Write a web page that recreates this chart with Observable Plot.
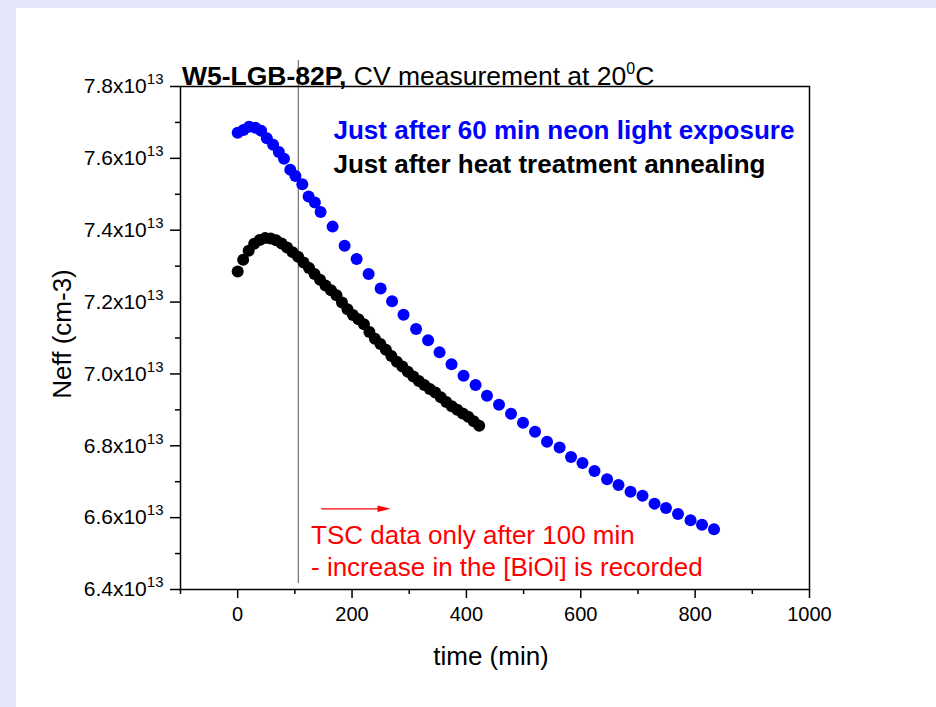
<!DOCTYPE html>
<html><head><meta charset="utf-8">
<script src="https://cdn.jsdelivr.net/npm/d3@7"></script>
<script src="https://cdn.jsdelivr.net/npm/@observablehq/plot@0.6"></script>
<style>
html,body{margin:0;padding:0;background:#fff;width:936px;height:707px;overflow:hidden;}
#wrap{position:relative;width:936px;height:707px;}
#stripL{position:absolute;left:0;top:0;width:16px;height:707px;background:#e6e6fa;}
#stripT{position:absolute;left:0;top:0;width:936px;height:8px;background:#e6e6fa;}
#chart{position:absolute;left:0;top:0;}
</style></head><body>
<div id="wrap"><div id="stripL"></div><div id="stripT"></div><div id="chart"></div></div>
<script>
// Neff values in units of 1e13 cm-3
const blueTime = [0,10,20,31,41,51,62,72,81,92,101,113,124,135,145,166,187,208,229,250,270,290,312,333,353,374,395,416,436,457,478,499,520,541,563,583,603,624,646,666,687,708,729,749,770,792,812,833];
const blueNeff = [7.671,7.679,7.688,7.685,7.677,7.656,7.638,7.618,7.599,7.568,7.551,7.528,7.494,7.477,7.451,7.410,7.357,7.320,7.278,7.238,7.202,7.165,7.125,7.094,7.060,7.027,6.995,6.969,6.939,6.914,6.889,6.864,6.839,6.811,6.795,6.769,6.752,6.730,6.707,6.691,6.672,6.661,6.639,6.627,6.610,6.593,6.580,6.568];
const blackTime = [0,9.6,19.2,28.8,38.4,48,57.6,67.2,76.8,86.4,96,105.6,115.2,124.8,134.4,144,153.6,163.2,172.8,182.4,192,201.6,211.2,220.8,230.4,240,249.6,259.2,268.8,278.4,288,297.6,307.2,316.8,326.4,336,345.6,355.2,364.8,374.4,384,393.6,403.2,412.8,422.4];
const blackNeff = [7.285,7.318,7.343,7.362,7.373,7.378,7.377,7.372,7.363,7.352,7.339,7.326,7.310,7.295,7.278,7.262,7.246,7.233,7.219,7.199,7.180,7.164,7.152,7.138,7.117,7.098,7.083,7.067,7.050,7.034,7.021,7.006,6.993,6.980,6.969,6.958,6.948,6.935,6.922,6.910,6.900,6.890,6.881,6.868,6.856];

const xTicks = [0,200,400,600,800,1000];
const xMinorTicks = [-100,100,300,500,700,900];
const yTicks = [6.4,6.6,6.8,7.0,7.2,7.4,7.6,7.8];
const yMinorTicks = [6.5,6.7,6.9,7.1,7.3,7.5,7.7];

const seriesLabels = ["Just after 60 min neon light exposure", "Just after heat treatment annealing"];
const seriesColors = ["#0000ff", "#000000"];
const titleBold = "W5-LGB-82P,";
const titleRest = " CV measurement at 20";
const titleSup = "0";
const titleEnd = "C";
const xLabel = "time (min)";
const yLabel = "Neff (cm-3)";
const noteLines = ["TSC data only after 100 min", "- increase in the [BiOi] is recorded"];
const markerTimes = [106];
const arrowTimes = [146, 256];
const arrowNeff = [6.6246];

const blue = blueTime.map((t, i) => ({t, n: blueNeff[i]}));
const black = blackTime.map((t, i) => ({t, n: blackNeff[i]}));
const arrow = [{x1: arrowTimes[0], x2: arrowTimes[1], y: arrowNeff[0]}];
const headSymbol = {draw(ctx) { ctx.moveTo(6.5, 0); ctx.lineTo(-6.5, -3.2); ctx.lineTo(-6.5, 3.2); ctx.closePath(); }};

const FONT = "'Liberation Sans', Arial, Helvetica, sans-serif";

const chart = Plot.plot({
  width: 936, height: 707,
  marginLeft: 180, marginRight: 127, marginTop: 86, marginBottom: 118,
  style: {fontFamily: FONT, background: "transparent", color: "#000", overflow: "visible"},
  x: {domain: [-100, 1000]},
  y: {domain: [6.4, 7.8]},
  marks: [
    Plot.ruleX(markerTimes, {x: d => d, y1: () => 7.872, y2: () => 6.417, stroke: "#555", strokeWidth: 1}),
    Plot.frame({stroke: "#000", strokeWidth: 1.5}),
    Plot.axisX(xTicks, {tickSize: 9, tickPadding: 8, fontSize: 20, strokeWidth: 1.5, label: null, tickFormat: d => String(d)}),
    Plot.axisX(xMinorTicks, {tickSize: 5, strokeWidth: 1.5, label: null, tickFormat: () => ""}),
    Plot.axisY(yTicks, {tickSize: 10, tickPadding: 7, fontSize: 21, strokeWidth: 1.5, label: null, tickFormat: d => d.toFixed(1) + "x10¹³"}),
    Plot.axisY(yMinorTicks, {tickSize: 5, strokeWidth: 1.5, label: null, tickFormat: () => ""}),
    Plot.dot(blue, {x: "t", y: "n", r: 6, fill: seriesColors[0]}),
    Plot.dot(black, {x: "t", y: "n", r: 6, fill: seriesColors[1]}),
    Plot.text([seriesLabels[0]], {frameAnchor: "top-left", dx: 153, dy: 52, fontSize: 26, fontWeight: "bold", fill: seriesColors[0], textAnchor: "start", lineAnchor: "bottom"}),
    Plot.text([seriesLabels[1]], {frameAnchor: "top-left", dx: 153, dy: 86, fontSize: 26, fontWeight: "bold", fill: seriesColors[1], textAnchor: "start", lineAnchor: "bottom"}),
    Plot.text([noteLines.join("\n")], {frameAnchor: "top-left", dx: 130.5, dy: 489, fontSize: 26, lineHeight: 1.23, fill: "#ff0000", textAnchor: "start", lineAnchor: "bottom"}),
    Plot.link(arrow, {x1: "x1", x2: "x2", y1: "y", y2: "y", stroke: "#ff0000", strokeWidth: 1.2}),
    Plot.dot(arrow, {x: "x2", y: "y", symbol: headSymbol, r: 4, fill: "#ff0000", stroke: "none"})
  ]
});

document.getElementById("chart").appendChild(chart);
const svg = d3.select(chart);

// superscript exponent on y tick labels
svg.selectAll('g[aria-label="y-axis tick label"] text').each(function() {
  const s = this.textContent;
  const parts = s.split("x10");
  if (parts.length === 2 && parts[0].length) {
    const el = d3.select(this);
    el.text(null);
    el.append("tspan").text(parts[0] + "x10");
    el.append("tspan").attr("dy", -9).attr("font-size", 15).text("13");
  }
});

// title
const title = svg.append("text").attr("x", 182).attr("y", 85).attr("text-anchor", "start").attr("font-size", 26.5).attr("fill", "#000");
title.append("tspan").attr("font-weight", "bold").text(titleBold);
title.append("tspan").text(titleRest);
title.append("tspan").attr("font-size", 16).attr("dy", -11).text(titleSup);
title.append("tspan").attr("font-size", 26.5).attr("dy", 11).text(titleEnd);

// axis labels
svg.append("text").attr("x", 491).attr("y", 665).attr("text-anchor", "middle").attr("font-size", 26).attr("fill", "#000").text(xLabel);
svg.append("text").attr("transform", "translate(71,334) rotate(-90)").attr("text-anchor", "middle").attr("font-size", 26).attr("fill", "#000").text(yLabel);
</script>
</body></html>
